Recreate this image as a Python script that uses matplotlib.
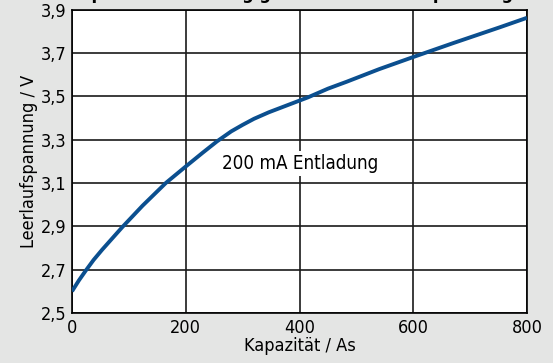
import matplotlib
matplotlib.use("Agg")
import matplotlib.pyplot as plt

plt.rcParams['font.family'] = ['DejaVu Sans']
plt.rcParams['font.stretch'] = 'condensed'

capacity = [0, 12, 24, 38, 53, 88, 124, 165, 200, 230, 255, 280, 300, 320, 346, 380, 415,
            450, 483, 540, 600, 670, 752, 800]
voltage = [2.60, 2.65, 2.695, 2.745, 2.792, 2.895, 2.995, 3.10, 3.176, 3.24, 3.292, 3.338,
           3.368, 3.396, 3.426, 3.46, 3.495, 3.535, 3.567, 3.625, 3.681, 3.745, 3.818, 3.862]
x_ticks = [0, 200, 400, 600, 800]
y_ticks = [2.5, 2.7, 2.9, 3.1, 3.3, 3.5, 3.7, 3.9]
y_labels = ['2,5', '2,7', '2,9', '3,1', '3,3', '3,5', '3,7', '3,9']

bg = '#e4e5e4'
fig = plt.figure(figsize=(5.53, 3.63), dpi=100, facecolor=bg)
ax = fig.add_axes([0.1302, 0.1377, 0.8228, 0.836])
ax.set_facecolor('white')
ax.plot(capacity, voltage, color='#0b4f8f', linewidth=2.8, solid_capstyle='butt',
        solid_joinstyle='round', zorder=3)
ax.set_xlim(0, 800)
ax.set_ylim(2.5, 3.9)
ax.set_xticks(x_ticks)
ax.set_xticklabels([str(t) for t in x_ticks])
ax.set_yticks(y_ticks)
ax.set_yticklabels(y_labels)
ax.grid(True, color='#1a1a1a', linewidth=1.2)
for s in ax.spines.values():
    s.set_linewidth(1.2)
ax.tick_params(length=0, labelsize=13, pad=4)
ax.set_xlabel('Kapazität / As', fontsize=13, labelpad=0)
ax.set_ylabel('Leerlaufspannung / V', fontsize=13, labelpad=2)
ax.text(401, 3.19, '200 mA Entladung', fontsize=13.5, ha='center', va='center',
        bbox=dict(facecolor='white', edgecolor='none', pad=2), zorder=4)
fig.text(0.525, 1.004, 'Kapazität in Abhängigkeit der Leerlaufspannung', fontsize=13,
         fontweight='bold', ha='center', va='baseline')
fig.savefig('out.png', dpi=100, facecolor=bg)
